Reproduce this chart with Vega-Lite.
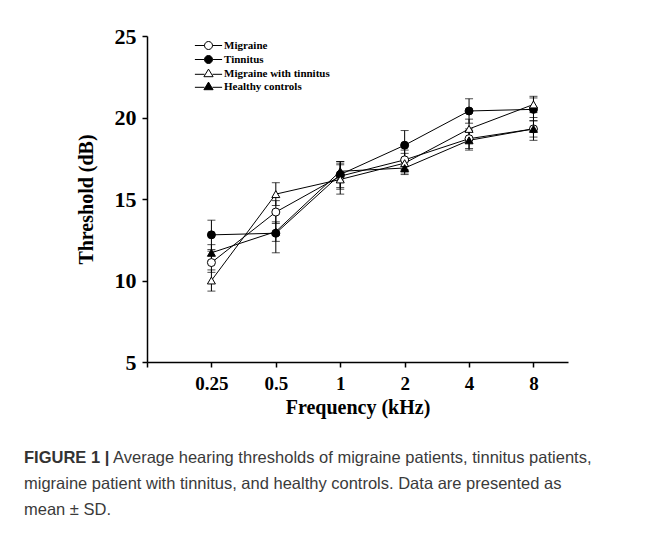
{
  "$schema": "https://vega.github.io/schema/vega-lite/v6.json",
  "background": "white",
  "padding": {"left": 24, "top": 25, "right": 5, "bottom": 5},
  "bounds": "flush",
  "spacing": 96,
  "config": {
    "view": {"stroke": null},
    "axis": {
      "domainColor": "black", "tickColor": "black", "domainWidth": 1.5, "tickWidth": 1.5, "tickSize": 5, "grid": false,
      "labelFont": "Liberation Serif", "labelFontWeight": "bold", "labelColor": "black",
      "titleFont": "Liberation Serif", "titleFontWeight": "bold", "titleColor": "black", "titleFontSize": 20
    },
    "axisX": {"labelFontSize": 19, "labelPadding": 7, "titlePadding": 4, "labelAngle": 0, "labelFlush": false},
    "axisY": {"labelFontSize": 22, "labelPadding": 6, "titlePadding": 18},
    "legend": {"labelFont": "Liberation Serif", "labelFontWeight": "bold", "labelFontSize": 11, "labelColor": "black", "padding": 0}
  },
  "datasets": {
    "hearing": [
      {"group": "Migraine", "freq": 0.25, "mean": 11.1, "lo": 10.5, "hi": 11.8},
      {"group": "Migraine", "freq": 0.5, "mean": 14.2, "lo": 13.5, "hi": 14.9},
      {"group": "Migraine", "freq": 1, "mean": 16.4, "lo": 15.6, "hi": 17.2},
      {"group": "Migraine", "freq": 2, "mean": 17.4, "lo": 16.8, "hi": 18.0},
      {"group": "Migraine", "freq": 4, "mean": 18.7, "lo": 18.1, "hi": 19.3},
      {"group": "Migraine", "freq": 8, "mean": 19.3, "lo": 18.8, "hi": 19.8},
      {"group": "Tinnitus", "freq": 0.25, "mean": 12.8, "lo": 11.9, "hi": 13.7},
      {"group": "Tinnitus", "freq": 0.5, "mean": 12.9, "lo": 11.7, "hi": 14.1},
      {"group": "Tinnitus", "freq": 1, "mean": 16.5, "lo": 15.7, "hi": 17.3},
      {"group": "Tinnitus", "freq": 2, "mean": 18.3, "lo": 17.4, "hi": 19.2},
      {"group": "Tinnitus", "freq": 4, "mean": 20.4, "lo": 19.65, "hi": 21.15},
      {"group": "Tinnitus", "freq": 8, "mean": 20.5, "lo": 19.8, "hi": 21.2},
      {"group": "Migraine with tinnitus", "freq": 0.25, "mean": 10.0, "lo": 9.35, "hi": 10.65},
      {"group": "Migraine with tinnitus", "freq": 0.5, "mean": 15.3, "lo": 14.6, "hi": 16.0},
      {"group": "Migraine with tinnitus", "freq": 1, "mean": 16.2, "lo": 15.3, "hi": 17.1},
      {"group": "Migraine with tinnitus", "freq": 2, "mean": 17.2, "lo": 16.6, "hi": 17.8},
      {"group": "Migraine with tinnitus", "freq": 4, "mean": 19.3, "lo": 18.7, "hi": 19.9},
      {"group": "Migraine with tinnitus", "freq": 8, "mean": 20.8, "lo": 20.3, "hi": 21.3},
      {"group": "Healthy controls", "freq": 0.25, "mean": 11.7, "lo": 11.2, "hi": 12.2},
      {"group": "Healthy controls", "freq": 0.5, "mean": 13.0, "lo": 12.4, "hi": 13.6},
      {"group": "Healthy controls", "freq": 1, "mean": 16.7, "lo": 16.1, "hi": 17.3},
      {"group": "Healthy controls", "freq": 2, "mean": 16.9, "lo": 16.5, "hi": 17.3},
      {"group": "Healthy controls", "freq": 4, "mean": 18.6, "lo": 18.0, "hi": 19.2},
      {"group": "Healthy controls", "freq": 8, "mean": 19.3, "lo": 18.6, "hi": 20.0}
    ],
    "caption": [
      {"line": 1, "part": "bold", "text": "FIGURE 1 |"},
      {"line": 1, "part": "lead", "text": "Average hearing thresholds of migraine patients, tinnitus patients,"},
      {"line": 2, "part": "body", "text": "migraine patient with tinnitus, and healthy controls. Data are presented as"},
      {"line": 3, "part": "body", "text": "mean ± SD."}
    ]
  },
  "vconcat": [
    {
      "width": 421,
      "height": 326,
      "data": {"name": "hearing"},
      "encoding": {
        "x": {
          "field": "freq", "type": "quantitative", "title": "Frequency (kHz)",
          "scale": {"type": "log", "base": 2, "domain": [0.125, 11.6], "nice": false},
          "axis": {"values": [0.125, 0.25, 0.5, 1, 2, 4, 8], "labelExpr": "datum.value < 0.2 ? '' : '' + datum.value"}
        }
      },
      "layer": [
        {
          "mark": {"type": "rule", "color": "black", "strokeWidth": 1},
          "encoding": {
            "y": {"field": "lo", "type": "quantitative", "title": "Threshold (dB)", "scale": {"domain": [5, 25], "nice": false}, "axis": {"values": [5, 10, 15, 20, 25]}},
            "y2": {"field": "hi"},
            "detail": {"field": "group"}
          }
        },
        {
          "mark": {"type": "tick", "orient": "horizontal", "color": "black", "size": 8, "thickness": 1},
          "encoding": {
            "y": {"field": "lo", "type": "quantitative", "title": "Threshold (dB)", "scale": {"domain": [5, 25], "nice": false}, "axis": {"values": [5, 10, 15, 20, 25]}}
          }
        },
        {
          "mark": {"type": "tick", "orient": "horizontal", "color": "black", "size": 8, "thickness": 1},
          "encoding": {
            "y": {"field": "hi", "type": "quantitative", "title": "Threshold (dB)", "scale": {"domain": [5, 25], "nice": false}, "axis": {"values": [5, 10, 15, 20, 25]}}
          }
        },
        {
          "mark": {"type": "line", "color": "black", "strokeWidth": 1},
          "encoding": {
            "y": {"field": "mean", "type": "quantitative", "title": "Threshold (dB)", "scale": {"domain": [5, 25], "nice": false}, "axis": {"values": [5, 10, 15, 20, 25]}},
            "detail": {"field": "group"},
            "order": {"field": "freq"}
          }
        },
        {
          "mark": {"type": "point", "filled": true, "stroke": "black", "strokeWidth": 1, "size": 64, "opacity": 1},
          "encoding": {
            "y": {"field": "mean", "type": "quantitative", "title": "Threshold (dB)", "scale": {"domain": [5, 25], "nice": false}, "axis": {"values": [5, 10, 15, 20, 25]}},
            "fill": {"field": "group", "type": "nominal", "legend": null,
              "scale": {"domain": ["Migraine", "Tinnitus", "Migraine with tinnitus", "Healthy controls"], "range": ["white", "black", "white", "black"]}},
            "shape": {"field": "group", "type": "nominal", "legend": null,
              "scale": {"domain": ["Migraine", "Tinnitus", "Migraine with tinnitus", "Healthy controls"], "range": ["circle", "circle", "triangle-up", "triangle-up"]}}
          }
        },
        {
          "transform": [{"filter": "false"}],
          "mark": {"type": "point", "filled": false, "stroke": "black", "strokeWidth": 1, "size": 64, "opacity": 1},
          "encoding": {
            "y": {"field": "mean", "type": "quantitative", "title": "Threshold (dB)", "scale": {"domain": [5, 25], "nice": false}, "axis": {"values": [5, 10, 15, 20, 25]}},
            "fill": {"field": "series", "type": "nominal",
              "scale": {"domain": ["Migraine", "Tinnitus", "Migraine with tinnitus", "Healthy controls"], "range": ["white", "black", "white", "black"]},
              "legend": {"orient": "none", "legendX": 56, "legendY": 4, "title": null, "symbolSize": 64, "symbolStrokeColor": "black", "symbolStrokeWidth": 1, "symbolOpacity": 1, "labelOffset": 10, "rowPadding": 1,
                "encode": {"symbols": {"update": {"stroke": {"value": "black"}, "strokeWidth": {"value": 1}}}}}},
            "shape": {"field": "series", "type": "nominal",
              "scale": {"domain": ["Migraine", "Tinnitus", "Migraine with tinnitus", "Healthy controls"],
                "range": [
                  "M-3.4,0L-1,0M1,0L3.4,0M1,0A1,1,0,1,1,-1,0A1,1,0,1,1,1,0Z",
                  "M-3.4,0L-1,0M1,0L3.4,0M1,0A1,1,0,1,1,-1,0A1,1,0,1,1,1,0Z",
                  "M-3.4,0.2L-1,0.2M1,0.2L3.4,0.2M0,-1.1L1.15,0.8L-1.15,0.8Z",
                  "M-3.4,0.2L-1,0.2M1,0.2L3.4,0.2M0,-1.1L1.15,0.8L-1.15,0.8Z"
                ]},
              "legend": {"orient": "none", "legendX": 56, "legendY": 4, "title": null, "symbolSize": 64, "symbolStrokeColor": "black", "symbolStrokeWidth": 1, "symbolOpacity": 1, "labelOffset": 10, "rowPadding": 1,
                "encode": {"symbols": {"update": {"stroke": {"value": "black"}, "strokeWidth": {"value": 1}}}}}}
          }
        }
      ],
      "resolve": {"scale": {"shape": "independent", "fill": "independent"}, "legend": {"shape": "independent", "fill": "independent"}}
    },
    {
      "width": 420,
      "height": 52,
      "data": {"name": "caption"},
      "encoding": {
        "x": {"datum": 0, "type": "quantitative", "scale": {"domain": [0, 1]}, "axis": null},
        "y": {"field": "line", "type": "ordinal", "scale": {"type": "point", "padding": 0}, "axis": null},
        "text": {"field": "text"}
      },
      "layer": [
        {
          "transform": [{"filter": "datum.part == 'bold'"}],
          "mark": {"type": "text", "align": "left", "baseline": "middle", "dx": -123, "font": "Liberation Sans", "fontSize": 16.5, "fontWeight": "bold", "color": "#333333"}
        },
        {
          "transform": [{"filter": "datum.part == 'lead'"}],
          "mark": {"type": "text", "align": "left", "baseline": "middle", "dx": -34, "font": "Liberation Sans", "fontSize": 16.5, "color": "#3a3a3a"}
        },
        {
          "transform": [{"filter": "datum.part == 'body'"}],
          "mark": {"type": "text", "align": "left", "baseline": "middle", "dx": -123, "font": "Liberation Sans", "fontSize": 16.5, "color": "#3a3a3a"}
        }
      ]
    }
  ]
}
